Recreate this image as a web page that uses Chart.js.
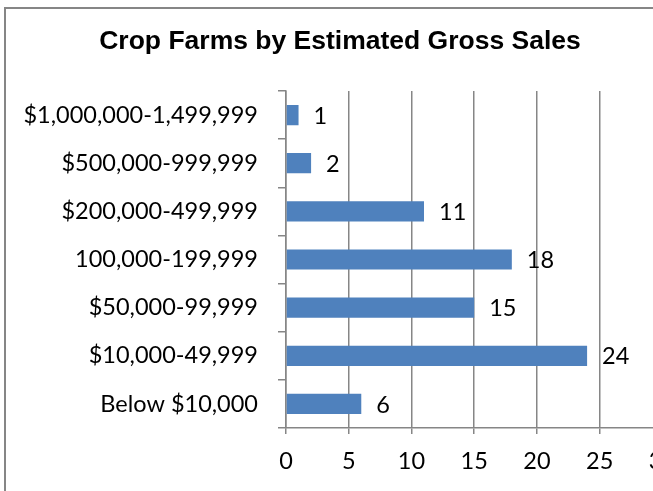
<!DOCTYPE html>
<html>
<head>
<meta charset="utf-8">
<script src="https://cdn.jsdelivr.net/npm/chart.js@4/dist/chart.umd.min.js"></script>
<style>
  html, body { margin: 0; padding: 0; background: #fff; overflow: hidden; width: 653px; height: 491px; }
  #frame { position: absolute; left: 4px; top: 7px; width: 683px; height: 500px; border: 2px solid #868686; }
  #chart { position: absolute; left: 0; top: 0; }
</style>
</head>
<body>
<div id="frame"><canvas id="chart" width="683" height="500"></canvas></div>
<script>
const categories = [
  '$1,000,000-1,499,999',
  '$500,000-999,999',
  '$200,000-499,999',
  '100,000-199,999',
  '$50,000-99,999',
  '$10,000-49,999',
  'Below $10,000'
];
const farmCounts = [1, 2, 11, 18, 15, 24, 6];
const xTicks = [0, 5, 10, 15, 20, 25, 30];

const gridColor = '#868686';
const labelFont = { family: 'Lato', size: 23.5 };

// value labels to the right of each bar
const valueLabels = {
  id: 'valueLabels',
  afterDatasetsDraw(chart) {
    const ctx = chart.ctx;
    const meta = chart.getDatasetMeta(0);
    ctx.save();
    ctx.font = '23.5px Lato';
    ctx.fillStyle = '#000';
    ctx.textAlign = 'left';
    ctx.textBaseline = 'middle';
    meta.data.forEach((bar, i) => {
      ctx.fillText(String(farmCounts[i]), bar.x + 15, bar.y + 1);
    });
    ctx.restore();
  }
};

new Chart(document.getElementById('chart'), {
  type: 'bar',
  data: {
    labels: categories,
    datasets: [{
      data: farmCounts,
      backgroundColor: '#4f81bd',
      borderWidth: 0,
      barPercentage: 0.42,
      categoryPercentage: 1
    }]
  },
  options: {
    indexAxis: 'y',
    responsive: false,
    animation: false,
    devicePixelRatio: 1,
    layout: { padding: { left: 0, right: 15, top: 0, bottom: 0 } },
    plugins: {
      legend: { display: false },
      tooltip: { enabled: false },
      title: {
        display: true,
        text: 'Crop Farms by Estimated Gross Sales',
        color: '#000',
        font: { family: 'Liberation Sans', size: 26.5, weight: 'bold' },
        padding: { top: 17, bottom: 33.2 }
      }
    },
    scales: {
      x: {
        min: 0,
        max: 30,
        afterBuildTicks: (scale) => { scale.ticks = xTicks.map(v => ({ value: v })); },
        afterFit: (scale) => { scale.height = 81; },
        grid: { color: gridColor, lineWidth: 1.5, tickLength: 6 },
        border: { color: gridColor, width: 1.5 },
        ticks: { color: '#000', font: labelFont, padding: 13, maxRotation: 0 }
      },
      y: {
        afterFit: (scale) => { scale.width = 280; },
        grid: { offset: true, drawOnChartArea: false, color: gridColor, lineWidth: 1.5, tickLength: 8 },
        border: { color: gridColor, width: 1.5 },
        ticks: { color: '#000', font: labelFont, padding: 20 }
      }
    }
  },
  plugins: [valueLabels]
});
</script>
</body>
</html>
